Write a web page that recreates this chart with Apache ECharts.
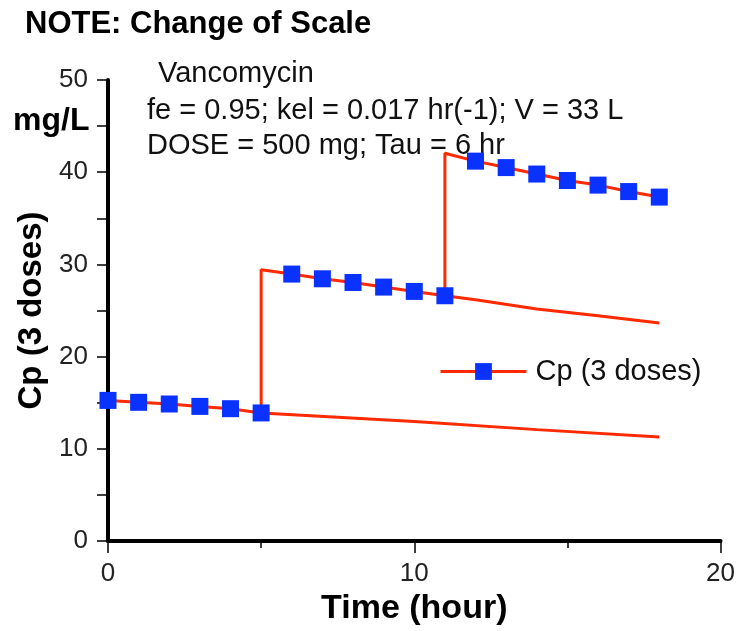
<!DOCTYPE html>
<html>
<head>
<meta charset="utf-8">
<script src="https://cdn.jsdelivr.net/npm/echarts@6/dist/echarts.min.js"></script>
<style>
  html, body { margin: 0; padding: 0; background: #fff; }
  #chart { width: 738px; height: 631px; }
</style>
</head>
<body>
<div id="chart"></div>
<script>
// combined concentration, read at each whole hour
const markerHours = [0, 1, 2, 3, 4, 5, 6, 7, 8, 9, 10, 11, 12, 13, 14, 15, 16, 17, 18]
const cpMarkers = [15.25, 15.04, 14.86, 14.6, 14.35, 13.89, 28.95, 28.44, 28.04, 27.54, 27.07, 26.6,
  41.2, 40.5, 39.8, 39.1, 38.6, 37.9, 37.3]

// dose times and the peak right after each dose
const doseHours = [5, 11]
const doseTops = [29.42, 42.06]

// first dose alone, continued after the 2nd dose
const curveAHours = [5, 10, 14, 18]
const curveAValues = [13.89, 12.95, 12.08, 11.28]

// two doses, continued after the 3rd dose
const curveBHours = [11, 12, 14, 16, 18]
const curveBValues = [26.6, 26.16, 25.16, 24.43, 23.64]

const xTicks = [0, 10, 20]
const yTicks = [0, 10, 20, 30, 40, 50]

const RED = '#ff2a00'
const BLUE = '#0a32ff'
const FONT = 'Liberation Sans, Arial, sans-serif'

// build the marker line: vertical jump at each dose (no symbol on jump point)
const mainData = []
markerHours.forEach((h, i) => {
  mainData.push([h, cpMarkers[i]])
  const d = doseHours.indexOf(h)
  if (d >= 0) {
    mainData.push({ value: [h, doseTops[d]], symbol: 'none' })
  }
})

const chart = echarts.init(document.getElementById('chart'))

const option = {
  animation: false,
  textStyle: { fontFamily: FONT },
  grid: { left: 108, right: 14, top: 80, bottom: 90 },
  legend: {
    left: 434,
    top: 352,
    itemWidth: 86,
    itemHeight: 21,
    itemGap: 0,
    lineStyle: { width: 3 },
    textStyle: { fontSize: 29, color: '#111', fontFamily: FONT, padding: [0, 0, 0, 4] },
    data: ['Cp (3 doses)']
  },
  graphic: [
    {
      type: 'text', left: 25, top: 9,
      style: { text: 'NOTE: Change of Scale', font: 'bold 31px ' + FONT, fill: '#000' }
    },
    {
      type: 'text', left: 13, top: 105,
      style: { text: 'mg/L', font: 'bold 32px ' + FONT, fill: '#000' }
    },
    {
      type: 'text', left: 158, top: 59,
      style: { text: 'Vancomycin', font: '29px ' + FONT, fill: '#111' }
    },
    {
      type: 'text', left: 147, top: 96,
      style: { text: 'fe = 0.95; kel = 0.017 hr(-1); V = 33 L', font: '29px ' + FONT, fill: '#111' }
    },
    {
      type: 'text', left: 147, top: 131,
      style: { text: 'DOSE = 500 mg; Tau = 6 hr', font: '29px ' + FONT, fill: '#111' }
    }
  ],
  xAxis: {
    type: 'value',
    min: xTicks[0],
    max: xTicks[xTicks.length - 1],
    interval: 10,
    name: 'Time (hour)',
    nameLocation: 'middle',
    nameGap: 47,
    nameTextStyle: { fontSize: 34, fontWeight: 'bold', color: '#000', fontFamily: FONT },
    axisLine: { lineStyle: { color: '#000', width: 4 } },
    axisTick: { length: 12, lineStyle: { color: '#000', width: 1.5 } },
    minorTick: { show: true, splitNumber: 2, length: 7, lineStyle: { color: '#000', width: 1.5 } },
    axisLabel: { fontSize: 26, color: '#222', margin: 20 },
    splitLine: { show: false }
  },
  yAxis: {
    type: 'value',
    min: yTicks[0],
    max: yTicks[yTicks.length - 1],
    interval: 10,
    name: 'Cp (3 doses)',
    nameLocation: 'middle',
    nameGap: 57,
    nameTextStyle: { fontSize: 33, fontWeight: 'bold', color: '#000', fontFamily: FONT },
    axisLine: { lineStyle: { color: '#000', width: 4 } },
    axisTick: { length: 11, lineStyle: { color: '#000', width: 1.5 } },
    minorTick: { show: true, splitNumber: 2, length: 11, lineStyle: { color: '#000', width: 1.5 } },
    axisLabel: { fontSize: 26, color: '#222', margin: 20 },
    splitLine: { show: false }
  },
  series: [
    {
      name: 'curveA',
      type: 'line',
      data: curveAHours.map((h, i) => [h, curveAValues[i]]),
      showSymbol: false,
      lineStyle: { color: RED, width: 3 },
      z: 2
    },
    {
      name: 'curveB',
      type: 'line',
      data: curveBHours.map((h, i) => [h, curveBValues[i]]),
      showSymbol: false,
      lineStyle: { color: RED, width: 3 },
      z: 2
    },
    {
      name: 'Cp (3 doses)',
      type: 'line',
      data: mainData,
      symbol: 'rect',
      symbolSize: 17,
      itemStyle: { color: BLUE },
      lineStyle: { color: RED, width: 3 },
      z: 3
    }
  ]
}

chart.setOption(option)
</script>
</body>
</html>
